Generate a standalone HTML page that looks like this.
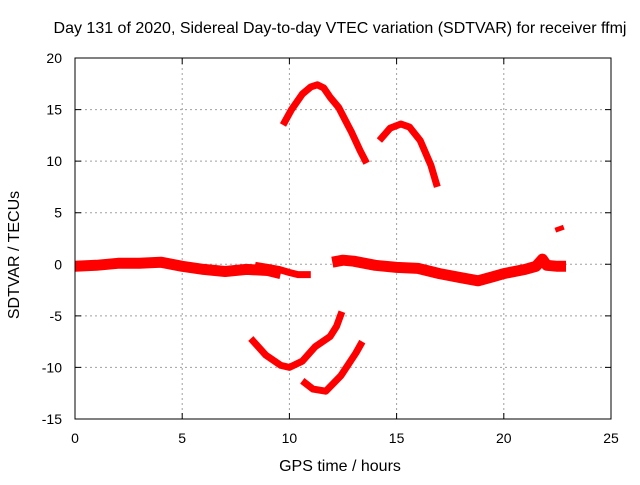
<!DOCTYPE html>
<html><head><meta charset="utf-8"><style>
body{margin:0;background:#fff;}
svg text{font-family:"Liberation Sans",sans-serif;font-size:14px;fill:#000;}
svg text.big{font-size:16px;}
</style></head><body>
<svg id="chart" width="640" height="480" viewBox="0 0 640 480">
<rect width="640" height="480" fill="#fff"/>
<text class="big" x="340" y="33" text-anchor="middle">Day 131 of 2020, Sidereal Day-to-day VTEC variation (SDTVAR) for receiver ffmj</text>
<g id="grid"></g>
<g id="ticks"></g>
<g id="series"></g>
<rect x="75" y="58" width="536" height="361" fill="none" stroke="#000" stroke-width="1"/>
<text class="big" x="340" y="471" text-anchor="middle">GPS time / hours</text>
<text class="big" transform="translate(19,255) rotate(-90)" text-anchor="middle">SDTVAR / TECUs</text>
</svg>
<script>
const xTicks=[0,5,10,15,20,25];
const yTicks=[-15,-10,-5,0,5,10,15,20];
const baseX=[0,1,2,3,4,5,6,7,8,9,9.6];
const baseY=[-0.2,-0.1,0.1,0.1,0.2,-0.2,-0.5,-0.7,-0.5,-0.6,-0.9];
const base2X=[8.4,9.0,9.5,10.0,10.4,11.0];
const base2Y=[-0.1,-0.3,-0.5,-0.8,-1.0,-1.0];
const base3X=[12.0,12.5,13.0,14.0,15.0,16.0,17.0,18.0,18.8,19.5,20.0,20.5,21.0,21.5,21.8,22.0,22.5,22.9];
const base3Y=[0.2,0.4,0.3,-0.1,-0.3,-0.4,-0.9,-1.3,-1.6,-1.2,-0.9,-0.7,-0.5,-0.2,0.5,-0.1,-0.2,-0.2];
const arc1X=[9.7,10.1,10.6,11.0,11.3,11.6,11.9,12.3,12.6,12.9,13.3,13.6];
const arc1Y=[13.5,15.0,16.5,17.2,17.4,17.1,16.2,15.2,14.0,12.8,11.0,9.8];
const arc2X=[14.2,14.7,15.2,15.6,16.1,16.6,16.9];
const arc2Y=[12.0,13.2,13.6,13.3,12.0,9.6,7.5];
const arc3X=[8.2,8.9,9.6,10.0,10.6,11.2,11.9,12.2,12.45];
const arc3Y=[-7.2,-8.8,-9.8,-10.0,-9.4,-8.0,-7.0,-6.0,-4.6];
const arc4X=[10.6,11.1,11.7,12.4,13.1,13.4];
const arc4Y=[-11.3,-12.1,-12.3,-10.8,-8.6,-7.5];
const arc5X=[22.4,22.8];
const arc5Y=[3.3,3.6];
const NS="http://www.w3.org/2000/svg";
const X=v=>75+(v-0)*536/25;
const Y=v=>419-(v+15)*361/35;
function mk(t,a){const e=document.createElementNS(NS,t);for(const k in a)e.setAttribute(k,a[k]);return e;}
const grid=document.getElementById('grid'),ticks=document.getElementById('ticks'),ser=document.getElementById('series');
xTicks.forEach(t=>{
 if(t>0&&t<25){const l=mk('line',{x1:X(t),x2:X(t),y1:58,y2:419,stroke:'#a0a0a0','stroke-dasharray':'2,3'});
 grid.appendChild(l);}
 const tk=mk('path',{d:`M${X(t)} 419v-6M${X(t)} 58v6`,stroke:'#000'});
 ticks.appendChild(tk);
 const tx=mk('text',{x:X(t),y:443,'text-anchor':'middle'});tx.textContent=t;
 ticks.appendChild(tx);
});
yTicks.forEach(t=>{
 if(t>-15&&t<20){const l=mk('line',{x1:75,x2:611,y1:Y(t),y2:Y(t),stroke:'#a0a0a0','stroke-dasharray':'2,3'});
 grid.appendChild(l);}
 const tk=mk('path',{d:`M75 ${Y(t)}h6M611 ${Y(t)}h-6`,stroke:'#000'});
 ticks.appendChild(tk);
 const tx=mk('text',{x:62,y:Y(t)+5,'text-anchor':'end'});tx.textContent=t;
 ticks.appendChild(tx);
});
function line(xs,ys,w,name){
 const d=xs.map((x,i)=>(i?'L':'M')+X(x).toFixed(1)+' '+Y(ys[i]).toFixed(1)).join('');
 const p=mk('path',{d:d,fill:'none',stroke:'#f00','stroke-width':w,'stroke-linejoin':'round','stroke-linecap':'butt'});
 ser.appendChild(p);
}
line(baseX,baseY,11,'baseline-segment-1');
line(base2X,base2Y,7,'baseline-segment-2');
line(base3X,base3Y,11,'baseline-segment-3');
line(arc1X,arc1Y,7,'arc-upper-1');
line(arc2X,arc2Y,7,'arc-upper-2');
line(arc3X,arc3Y,7,'arc-lower-1');
line(arc4X,arc4Y,7,'arc-lower-2');
line(arc5X,arc5Y,5,'short-segment');
</script>
</body></html>
